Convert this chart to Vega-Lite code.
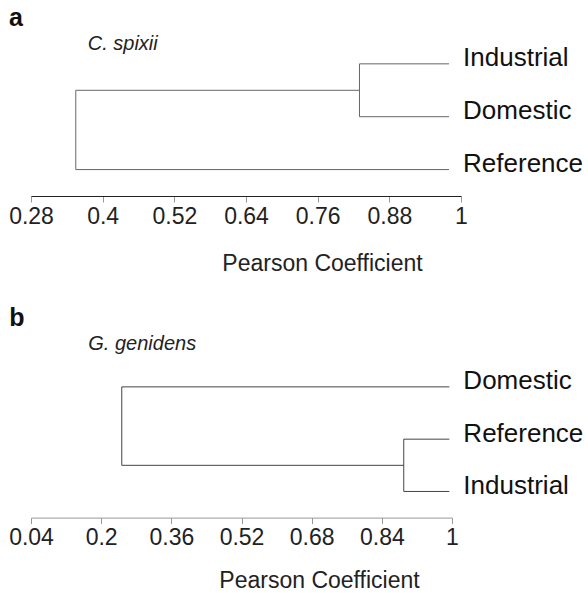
{
  "$schema": "https://vega.github.io/schema/vega-lite/v6.json",
  "autosize": {"type": "pad"},
  "padding": {"left": 8, "top": 6, "right": 0, "bottom": 0},
  "bounds": "flush",
  "spacing": 138.6,
  "config": {
    "font": "Liberation Sans",
    "view": {"stroke": null},
    "axis": {"grid": false}
  },
  "datasets": {
    "a_segments": [
      {"x": 0.83, "x2": 0.98, "y": 1, "y2": 1},
      {"x": 0.83, "x2": 0.98, "y": 2, "y2": 2},
      {"x": 0.83, "x2": 0.83, "y": 1, "y2": 2},
      {"x": 0.355, "x2": 0.83, "y": 1.5, "y2": 1.5},
      {"x": 0.355, "x2": 0.98, "y": 3, "y2": 3},
      {"x": 0.355, "x2": 0.355, "y": 1.5, "y2": 3}
    ],
    "a_leaves": [
      {"label": "Industrial", "end": 0.98, "order": 1},
      {"label": "Domestic", "end": 0.98, "order": 2},
      {"label": "Reference", "end": 0.98, "order": 3}
    ],
    "b_segments": [
      {"x": 0.247, "x2": 0.994, "y": 1, "y2": 1},
      {"x": 0.247, "x2": 0.247, "y": 1, "y2": 2.5},
      {"x": 0.247, "x2": 0.89, "y": 2.5, "y2": 2.5},
      {"x": 0.89, "x2": 0.89, "y": 2, "y2": 3},
      {"x": 0.89, "x2": 0.994, "y": 2, "y2": 2},
      {"x": 0.89, "x2": 0.994, "y": 3, "y2": 3}
    ],
    "b_leaves": [
      {"label": "Domestic", "end": 0.994, "order": 1},
      {"label": "Reference", "end": 0.994, "order": 2},
      {"label": "Industrial", "end": 0.994, "order": 3}
    ],
    "a_info": [{"panel": "a", "species": "C. spixii"}],
    "b_info": [{"panel": "b", "species": "G. genidens"}]
  },
  "vconcat": [
    {
      "width": 430,
      "height": 185,
      "layer": [
        {
          "data": {"name": "a_segments"},
          "mark": {"type": "rule", "color": "#666", "strokeWidth": 1},
          "encoding": {
            "x": {
              "field": "x", "type": "quantitative",
              "scale": {"domain": [0.28, 1], "nice": false, "zero": false},
              "axis": {
                "values": [0.28, 0.4, 0.52, 0.64, 0.76, 0.88, 1],
                "labelExpr": "format(datum.value, '.2~f')",
                "title": "Pearson Coefficient",
                "titleFontSize": 23, "titleFontWeight": "normal", "titleColor": "#222",
                "titleX": 291, "titleY": 74, "titleAlign": "center", "titleBaseline": "alphabetic",
                "labelFontSize": 23, "labelColor": "#222", "labelPadding": 3,
                "labelFlush": false, "labelOverlap": false, "labelBound": false,
                "domainColor": "#222", "domainWidth": 1,
                "tickColor": "#999", "tickSize": 6, "tickWidth": 1
              }
            },
            "x2": {"field": "x2"},
            "y": {
              "field": "y", "type": "quantitative",
              "scale": {"domain": [0, 3.5], "reverse": true, "nice": false, "zero": false},
              "axis": null
            },
            "y2": {"field": "y2"}
          }
        },
        {
          "data": {"name": "a_leaves"},
          "mark": {"type": "text", "align": "left", "baseline": "alphabetic", "dx": 14, "dy": 2.5, "fontSize": 26, "color": "#111"},
          "encoding": {
            "x": {"field": "end", "type": "quantitative"},
            "y": {"field": "order", "type": "quantitative"},
            "text": {"field": "label"}
          }
        },
        {
          "data": {"name": "a_info"},
          "mark": {"type": "text", "align": "left", "baseline": "alphabetic", "fontSize": 25, "fontWeight": "bold", "color": "#111"},
          "encoding": {
            "x": {"datum": 0.243, "type": "quantitative"},
            "y": {"datum": 0.29, "type": "quantitative"},
            "text": {"field": "panel"}
          }
        },
        {
          "data": {"name": "a_info"},
          "mark": {"type": "text", "align": "left", "baseline": "alphabetic", "fontSize": 20, "fontStyle": "italic", "color": "#222"},
          "encoding": {
            "x": {"datum": 0.375, "type": "quantitative"},
            "y": {"datum": 0.729, "type": "quantitative"},
            "text": {"field": "species"}
          }
        }
      ]
    },
    {
      "width": 421,
      "height": 183,
      "layer": [
        {
          "data": {"name": "b_segments"},
          "mark": {"type": "rule", "color": "#444", "strokeWidth": 1},
          "encoding": {
            "x": {
              "field": "x", "type": "quantitative",
              "scale": {"domain": [0.04, 1], "nice": false, "zero": false},
              "axis": {
                "values": [0.04, 0.2, 0.36, 0.52, 0.68, 0.84, 1],
                "labelExpr": "format(datum.value, '.2~f')",
                "title": "Pearson Coefficient",
                "titleFontSize": 23, "titleFontWeight": "normal", "titleColor": "#222",
                "titleX": 288, "titleY": 70, "titleAlign": "center", "titleBaseline": "alphabetic",
                "labelFontSize": 23, "labelColor": "#222", "labelPadding": 3,
                "labelFlush": false, "labelOverlap": false, "labelBound": false,
                "domainColor": "#999", "domainWidth": 1,
                "tickColor": "#999", "tickSize": 6, "tickWidth": 1
              }
            },
            "x2": {"field": "x2"},
            "y": {
              "field": "y", "type": "quantitative",
              "scale": {"domain": [0, 3.5], "reverse": true, "nice": false, "zero": false},
              "axis": null
            },
            "y2": {"field": "y2"}
          }
        },
        {
          "data": {"name": "b_leaves"},
          "mark": {"type": "text", "align": "left", "baseline": "alphabetic", "dx": 14, "dy": 2.5, "fontSize": 26, "color": "#111"},
          "encoding": {
            "x": {"field": "end", "type": "quantitative"},
            "y": {"field": "order", "type": "quantitative"},
            "text": {"field": "label"}
          }
        },
        {
          "data": {"name": "b_info"},
          "mark": {"type": "text", "align": "left", "baseline": "alphabetic", "fontSize": 25, "fontWeight": "bold", "color": "#111"},
          "encoding": {
            "x": {"datum": -0.0095, "type": "quantitative"},
            "y": {"datum": -0.16, "type": "quantitative"},
            "text": {"field": "panel"}
          }
        },
        {
          "data": {"name": "b_info"},
          "mark": {"type": "text", "align": "left", "baseline": "alphabetic", "fontSize": 20, "fontStyle": "italic", "color": "#222"},
          "encoding": {
            "x": {"datum": 0.1706, "type": "quantitative"},
            "y": {"datum": 0.285, "type": "quantitative"},
            "text": {"field": "species"}
          }
        }
      ]
    }
  ]
}
